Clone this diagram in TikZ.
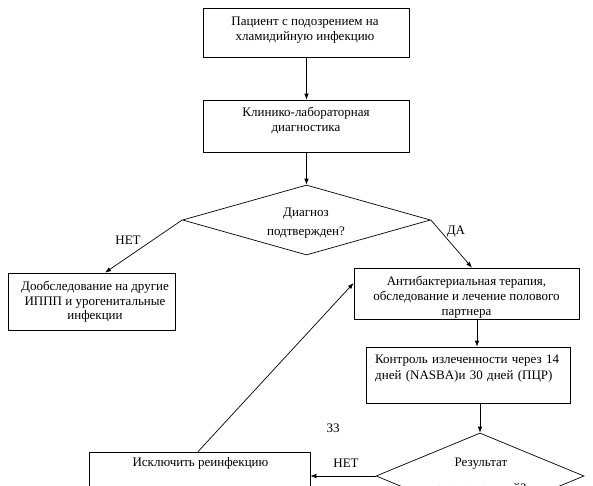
\documentclass[tikz,border=0pt]{standalone}
\usepackage{fontspec}
\setmainfont{Liberation Serif}
\usetikzlibrary{arrows.meta,shapes.geometric}
\begin{document}
\begin{tikzpicture}[x=1pt,y=-1pt,
  box/.style={draw, line width=0.7pt, inner sep=0pt},
  dia/.style={draw, diamond, line width=0.7pt, inner sep=0pt},
  txt/.style={font=\fontsize{13}{15}\selectfont, align=center, inner sep=0pt},
  arr/.style={-{Latex[length=6pt,width=4.5pt]}, line width=0.7pt}]
\useasboundingbox (0,0) rectangle (593,485);
\fill[white] (0,0) rectangle (593,485);

% boxes
\node[box, minimum width=206pt, minimum height=49pt] (b1) at (306.5,32.5) {};
\node[box, minimum width=206pt, minimum height=52pt] (b2) at (306.5,126) {};
\node[dia, minimum width=248pt, minimum height=70pt] (d1) at (306.5,220) {};
\node[box, minimum width=167pt, minimum height=57pt] (b3) at (91.5,301.5) {};
\node[box, minimum width=225pt, minimum height=51pt] (b4) at (466.5,293.5) {};
\node[box, minimum width=204pt, minimum height=56pt] (b5) at (468,375) {};
\node[dia, minimum width=208pt, minimum height=86pt] (d2) at (480,476) {};
\node[box, minimum width=221pt, minimum height=68pt] (b6) at (199.5,486) {};

% texts
\node[txt] (t1) at (305,30) {Пациент с подозрением на\\хламидийную инфекцию};
\node[txt] (t2) at (306,121) {Клинико-лабораторная\\диагностика};
\node[txt, font=\fontsize{13}{19}\selectfont] (td1) at (306,223) {Диагноз\\подтвержден?};
\node[txt, font=\fontsize{13}{14.5}\selectfont] (t3) at (95,302) {Дообследование на другие\\ИППП и урогенитальные\\инфекции};
\node[txt] (t4) at (466.5,297.5) {Антибактериальная терапия,\\обследование и лечение полового\\партнера};
\node[txt, align=left, anchor=north west, text width=194pt, font=\fontsize{13}{16}\selectfont] (t5) at (375,354.5)
  {\makebox[194pt][s]{Контроль излеченности через 14}\\дней (NASBA)и 30 дней (ПЦР)};
\node[txt, font=\fontsize{13}{26}\selectfont, anchor=north] (td2) at (481,458) {Результат\\отрицательный?};
\node[txt] (t6) at (200.5,463.5) {Исключить реинфекцию};

% labels
\node[txt] (lno1) at (128,240.5) {НЕТ};
\node[txt] (lyes) at (456,231.5) {ДА};
\node[txt] (lno2) at (346,463.5) {НЕТ};
\node[txt] (page) at (333,428.5) {33};

% connectors
\draw[arr] (b1.south) -- (b2.north);
\draw[arr] (b2.south) -- (d1.north);
\draw[arr] (d1.west) -- ([xshift=13.5pt]b3.north);
\draw[arr] (d1.east) -- ([xshift=5.5pt]b4.north);
\draw[arr] ([xshift=10.5pt]b4.south) -- ([xshift=9pt]b5.north);
\draw[arr] ([xshift=12pt]b5.south) -- (d2.north);
\draw[arr] (d2.west) -- (d2.west -| b6.east);
\draw[arr] ([xshift=-1.5pt]b6.north) -- ([yshift=10.5pt]b4.west);
\end{tikzpicture}
\end{document}
